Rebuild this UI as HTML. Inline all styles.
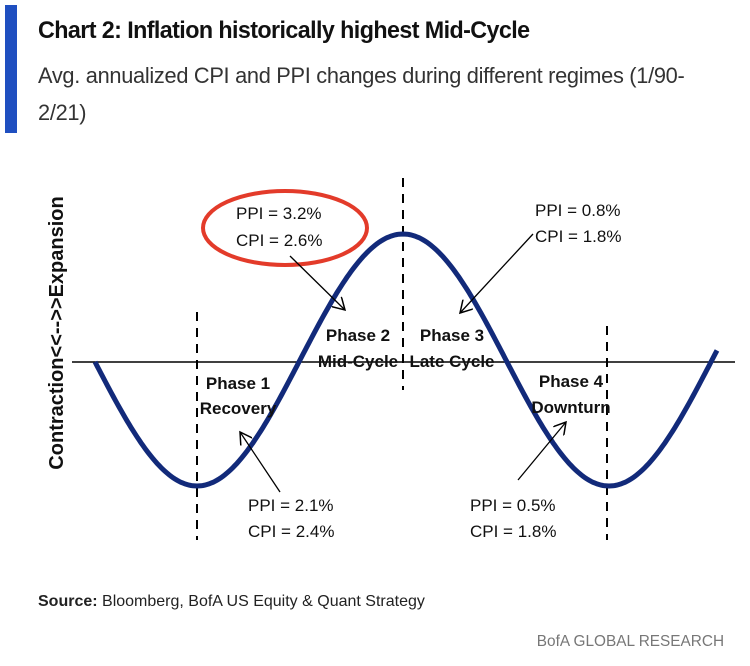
<!DOCTYPE html>
<html><head><meta charset="utf-8"><style>
body{margin:0;background:#fff;width:750px;height:666px;overflow:hidden;position:relative;font-family:"Liberation Sans",sans-serif}
.bar{position:absolute;left:5px;top:5px;width:12px;height:128px;background:#1f4fc0}
.t{position:absolute;left:38px;top:17px;font:bold 24px "Liberation Sans",sans-serif;color:#111;letter-spacing:-0.6px;transform:scaleX(0.97);transform-origin:left;white-space:nowrap}
.s{position:absolute;left:38px;top:57px;font:22px/37px "Liberation Sans",sans-serif;color:#333;width:760px;transform:scaleX(0.99);transform-origin:left;letter-spacing:-0.3px;white-space:nowrap}
.src{position:absolute;left:38px;top:593px;font:16px "Liberation Sans",sans-serif;color:#222;transform:scaleX(1.0);transform-origin:left;white-space:nowrap}
.bofa{position:absolute;right:26px;top:633px;font:16px "Liberation Sans",sans-serif;color:#777;transform:scaleX(0.96);transform-origin:right;white-space:nowrap}
svg{position:absolute;left:0;top:0}
</style></head><body>
<div class="bar"></div>
<div class="t">Chart 2: Inflation historically highest Mid-Cycle</div>
<div class="s">Avg. annualized CPI and PPI changes during different regimes (1/90-<br>2/21)</div>
<svg width="750" height="666" xmlns="http://www.w3.org/2000/svg">
<defs><marker id="a" markerWidth="14" markerHeight="14" refX="12" refY="7" orient="auto" markerUnits="userSpaceOnUse"><path d="M0,0 L12,7 L0,14" fill="none" stroke="#000" stroke-width="1.5"/></marker></defs>
<g stroke="#000" stroke-width="2" stroke-dasharray="9,7">
<line x1="197" y1="312" x2="197" y2="540"/><line x1="403" y1="178" x2="403" y2="390"/><line x1="607" y1="326" x2="607" y2="540"/></g>
<line x1="72" y1="362" x2="735" y2="362" stroke="#000" stroke-width="1.5"/>
<path id="c" fill="none" stroke="#122a7a" stroke-width="5" d=""/>
<script>
var d="";for(var x=95;x<=718;x+=2){var y=360-126*Math.cos(2*Math.PI*(x-403)/412);d+=(x==95?"M":"L")+x+","+y.toFixed(1)+" ";}
document.getElementById("c").setAttribute("d",d);
</script>
<ellipse cx="285" cy="228" rx="82" ry="37" fill="none" stroke="#e33b2a" stroke-width="4"/>
<g stroke="#000" stroke-width="1.3" marker-end="url(#a)">
<line x1="290" y1="256" x2="345" y2="310"/><line x1="533" y1="234" x2="460" y2="313"/>
<line x1="280" y1="492" x2="240" y2="432"/><line x1="518" y1="480" x2="566" y2="422"/></g>
<g font-family="Liberation Sans,sans-serif" font-size="17" fill="#111">
<text x="236" y="219">PPI = 3.2%</text><text x="236" y="246">CPI = 2.6%</text>
<text x="535" y="216">PPI = 0.8%</text><text x="535" y="242">CPI = 1.8%</text>
<text x="248" y="511">PPI = 2.1%</text><text x="248" y="537">CPI = 2.4%</text>
<text x="470" y="511">PPI = 0.5%</text><text x="470" y="537">CPI = 1.8%</text>
</g>
<g font-family="Liberation Sans,sans-serif" font-size="17" font-weight="bold" fill="#111" text-anchor="middle">
<text x="358" y="341">Phase 2</text><text x="358" y="367">Mid-Cycle</text>
<text x="452" y="341">Phase 3</text><text x="452" y="367">Late Cycle</text>
<text x="238" y="389">Phase 1</text><text x="238" y="414">Recovery</text>
<text x="571" y="387">Phase 4</text><text x="571" y="413">Downturn</text>
<text transform="translate(63,333) rotate(-90)" font-size="20">Contraction&lt;&lt;--&gt;&gt;Expansion</text>
</g>
</svg>
<div class="src"><b>Source:</b> Bloomberg, BofA US Equity &amp; Quant Strategy</div>
<div class="bofa">BofA GLOBAL RESEARCH</div>
</body></html>
